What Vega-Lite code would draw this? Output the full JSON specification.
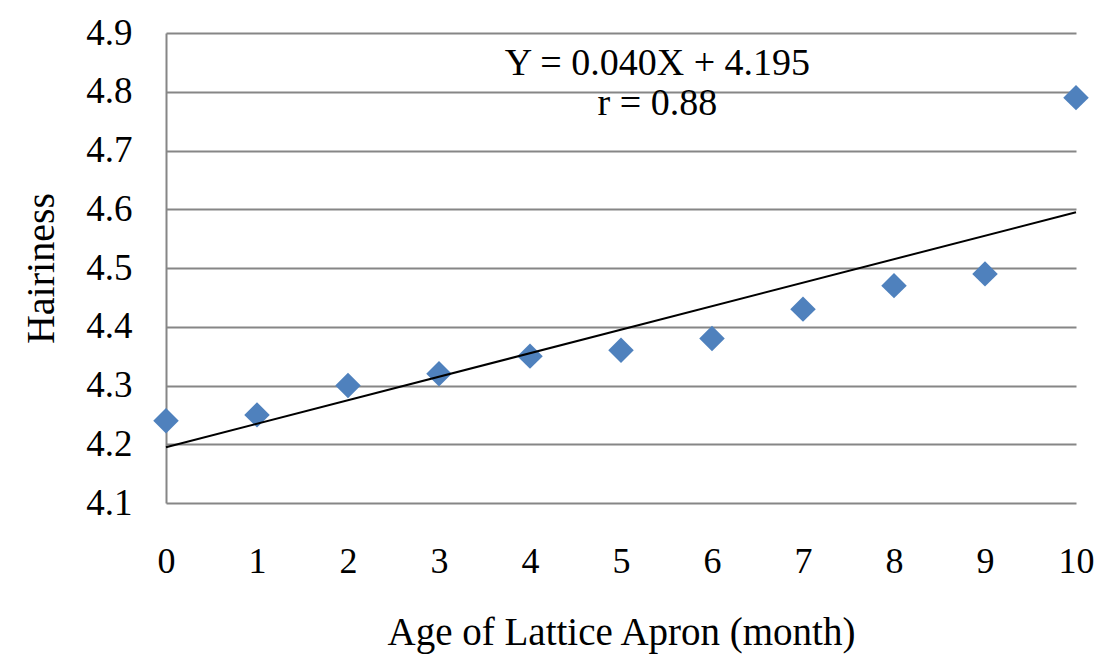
{
  "$schema": "https://vega.github.io/schema/vega-lite/v6.json",
  "width": 910,
  "height": 470,
  "autosize": {"type": "none"},
  "padding": {"left": 166, "top": 33, "right": 29, "bottom": 154},
  "background": "white",
  "config": {
    "view": {"stroke": null},
    "font": "Liberation Serif",
    "axis": {"labelFont": "Liberation Serif", "titleFont": "Liberation Serif", "labelColor": "black", "titleColor": "black", "titleFontWeight": "normal"}
  },
  "datasets": {
    "points": [
      {"age": 0, "hairiness": 4.24},
      {"age": 1, "hairiness": 4.25},
      {"age": 2, "hairiness": 4.30},
      {"age": 3, "hairiness": 4.32},
      {"age": 4, "hairiness": 4.35},
      {"age": 5, "hairiness": 4.36},
      {"age": 6, "hairiness": 4.38},
      {"age": 7, "hairiness": 4.43},
      {"age": 8, "hairiness": 4.47},
      {"age": 9, "hairiness": 4.49},
      {"age": 10, "hairiness": 4.79}
    ],
    "fit": [
      {"age": 0, "hairiness": 4.195},
      {"age": 10, "hairiness": 4.595}
    ]
  },
  "layer": [
    {
      "data": {"name": "points"},
      "mark": {"type": "point", "shape": "diamond", "filled": true, "size": 650, "color": "#4f81bd", "opacity": 1},
      "encoding": {
        "x": {
          "field": "age", "type": "quantitative",
          "scale": {"domain": [0, 10], "nice": false, "zero": false},
          "axis": {"values": [0,1,2,3,4,5,6,7,8,9,10], "format": "d", "labelFlush": false, "grid": false, "domain": false, "ticks": false, "labelFontSize": 36, "labelPadding": 41, "title": "Age of Lattice Apron (month)", "titleFontSize": 39, "titlePadding": 34}
        },
        "y": {
          "field": "hairiness", "type": "quantitative",
          "scale": {"domain": [4.1, 4.9], "nice": false, "zero": false},
          "axis": {"values": [4.1,4.2,4.3,4.4,4.5,4.6,4.7,4.8,4.9], "format": ".1f", "grid": true, "gridColor": "#868686", "gridWidth": 2, "domain": true, "domainColor": "#868686", "domainWidth": 2, "ticks": false, "labelFontSize": 37, "labelPadding": 34, "title": "Hairiness", "titleFontSize": 40, "titlePadding": 24}
        }
      }
    },
    {
      "data": {"name": "fit"},
      "mark": {"type": "line", "color": "black", "strokeWidth": 2},
      "encoding": {
        "x": {"field": "age", "type": "quantitative"},
        "y": {"field": "hairiness", "type": "quantitative"}
      }
    },
    {
      "data": {"values": [{}]},
      "mark": {"type": "text", "fontSize": 38, "align": "center", "baseline": "alphabetic", "lineHeight": 40, "color": "black"},
      "encoding": {
        "x": {"datum": 5.4},
        "y": {"datum": 4.8285},
        "text": {"value": ["Y = 0.040X + 4.195", "r = 0.88"]}
      }
    }
  ]
}
